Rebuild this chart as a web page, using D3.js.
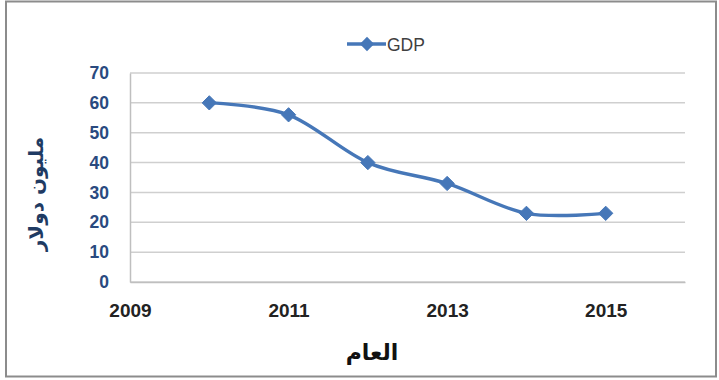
<!DOCTYPE html>
<html><head><meta charset="utf-8">
<script src="https://cdn.jsdelivr.net/npm/d3@7"></script>
<style>body{margin:0;background:#fff}svg{display:block}</style>
</head><body>
<svg id="c" width="719" height="380"></svg>
<script>
const years = [2010, 2011, 2012, 2013, 2014, 2015];
const gdp = [60, 56, 40, 33, 23, 23];
const yTicks = [0, 10, 20, 30, 40, 50, 60, 70];
const xTicks = [2009, 2011, 2013, 2015];
const seriesName = "GDP";
const yTitle = "مليون دولار";
const xTitle = "العام";

const svg = d3.select("#c");
const W = 719, H = 380;
const m = {left: 130, right: 34, top: 73, bottom: 98};
const x = d3.scaleLinear().domain([2009, 2016]).range([m.left, W - m.right]);
const y = d3.scaleLinear().domain([0, 70]).range([H - m.bottom, m.top]);
const blue = "#4677b8";

// border
svg.append("rect").attr("x", 6).attr("y", 1.5).attr("width", 710).attr("height", 375)
  .attr("fill", "#fff").attr("stroke", "#8c8c8c").attr("stroke-width", 2);

// gridlines
svg.append("g").selectAll("line").data(yTicks).join("line")
  .attr("x1", m.left).attr("x2", W - m.right)
  .attr("y1", d => y(d)).attr("y2", d => y(d))
  .attr("stroke", "#cfcfcf").attr("stroke-width", 1.5);

// left axis
const yAxis = d3.axisLeft(y).tickValues(yTicks).tickSize(0).tickPadding(21);
const gy = svg.append("g").attr("transform", `translate(${m.left},0)`).call(yAxis);
gy.select(".domain").attr("stroke", "#bfbfbf").attr("stroke-width", 1.5);
gy.selectAll("text").attr("font-family", "Liberation Sans, Arial, sans-serif")
  .attr("font-size", 17.5).attr("font-weight", "bold").attr("fill", "#2a4a7f");

// bottom axis
const xAxis = d3.axisBottom(x).tickValues(xTicks).tickFormat(d3.format("d")).tickSize(0).tickPadding(22);
const gx = svg.append("g").attr("transform", `translate(0,${y(0)})`).call(xAxis);
gx.select(".domain").attr("stroke", "#bfbfbf").attr("stroke-width", 1.5);
gx.selectAll("text").attr("font-family", "Liberation Sans, Arial, sans-serif")
  .attr("font-size", 19).attr("font-weight", "bold").attr("fill", "#222");

// line
const data = years.map((yr, i) => ({x: yr, y: gdp[i]}));
const line = d3.line().x(d => x(d.x)).y(d => y(d.y)).curve(d3.curveCardinal.tension(0));
svg.append("path").datum(data).attr("d", line)
  .attr("fill", "none").attr("stroke", blue).attr("stroke-width", 3.4);

const diamond = d3.symbol().type(d3.symbolDiamond2).size(130);
svg.append("g").selectAll("path").data(data).join("path")
  .attr("d", diamond).attr("transform", d => `translate(${x(d.x)},${y(d.y)})`)
  .attr("fill", blue).attr("stroke", blue).attr("stroke-width", 1);

// legend
const lg = svg.append("g");
lg.append("line").attr("x1", 347).attr("x2", 386).attr("y1", 44).attr("y2", 44)
  .attr("stroke", blue).attr("stroke-width", 3.4);
lg.append("path").attr("d", diamond).attr("transform", "translate(367,44)").attr("fill", blue);
lg.append("text").attr("x", 387).attr("y", 50.5).text(seriesName)
  .attr("font-family", "Liberation Sans, Arial, sans-serif").attr("font-size", 17.5).attr("fill", "#404040");

// axis titles
svg.append("text").attr("transform", "translate(36,194) rotate(-90)")
  .attr("text-anchor", "middle").attr("dominant-baseline", "central")
  .attr("font-family", "DejaVu Sans, sans-serif").attr("font-weight", "bold")
  .attr("font-size", 20).attr("fill", "#1f3b63").text(yTitle);
svg.append("text").attr("x", 372).attr("y", 352)
  .attr("text-anchor", "middle").attr("dominant-baseline", "central")
  .attr("font-family", "DejaVu Sans, sans-serif").attr("font-weight", "bold")
  .attr("font-size", 22).attr("fill", "#111").text(xTitle);
</script>
</body></html>
